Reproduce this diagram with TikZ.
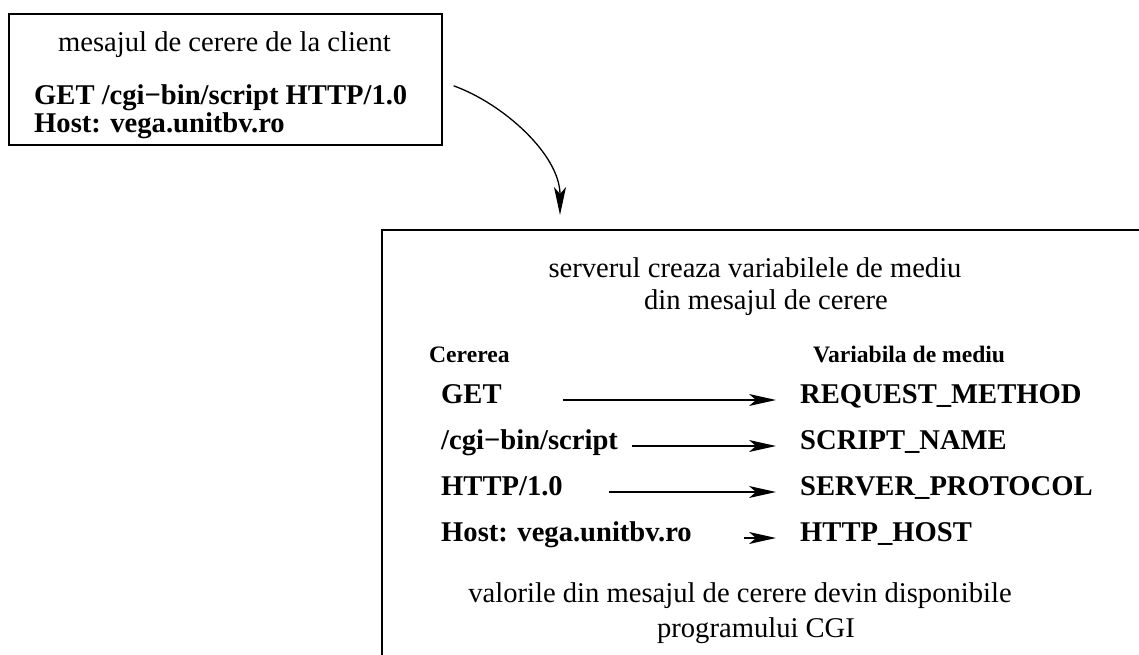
\documentclass[tikz,border=0pt]{standalone}
\usepackage{fontspec}
\setmainfont{Liberation Serif}
\usetikzlibrary{arrows.meta, calc}
\tikzset{
    frame/.style={draw, line width=1.6pt, inner sep=0pt, anchor=north west},
    plain text/.style={font=\fontsize{28.6pt}{34pt}\selectfont, inner sep=0pt},
    bold text/.style={font=\fontsize{28.6pt}{34pt}\selectfont\bfseries, inner sep=0pt},
    head text/.style={font=\fontsize{23.6pt}{28pt}\selectfont\bfseries, inner sep=0pt},
    row text/.style={bold text, text height=0.662em, text depth=0pt, anchor=west},
    map arrow/.style={line width=1.3pt, -{Stealth[length=27pt, width=12pt, inset=7pt]}},
    flow arrow/.style={line width=1.3pt, -{Stealth[length=28pt, width=12pt, inset=7pt]}}
}
\begin{document}
\begin{tikzpicture}[x=1pt, y=-1pt]
    \useasboundingbox (0,0) rectangle (1139,655);
    \clip (0,0) rectangle (1139,655);

    % client request
    \node[frame, minimum width=433pt, minimum height=131pt] (reqBox) at (8,13) {};
    \node[plain text, anchor=base] (reqTitle) at (224.5,52) {mesajul de cerere de la client};
    \node[bold text, anchor=base west] (reqLine) at (34,105) {GET /cgi−bin/script HTTP/1.0};
    \node[bold text, anchor=base west] (hostLine) at (34,133) {Host: vega.unitbv.ro};

    % server side
    \node[frame, minimum width=800pt, minimum height=460pt] (srvBox) at (381,229) {};
    \node[plain text, anchor=base] (srvTitleA) at (755,277) {serverul creaza variabilele de mediu};
    \node[plain text, anchor=base] (srvTitleB) at (766,309) {din mesajul de cerere};
    \node[head text, anchor=base west] (colReq) at (429,362) {Cererea};
    \node[head text, anchor=base west] (colVar) at (813,362) {Variabila de mediu};

    \node[row text] (getL) at (441,400) {GET};
    \node[row text] (getR) at (800,400) {REQUEST\_METHOD};
    \node[row text] (scriptL) at (441,446) {/cgi−bin/script};
    \node[row text] (scriptR) at (800,446) {SCRIPT\_NAME};
    \node[row text] (protoL) at (441,492) {HTTP/1.0};
    \node[row text] (protoR) at (800,492) {SERVER\_PROTOCOL};
    \node[row text] (hostL) at (441,538) {Host: vega.unitbv.ro};
    \node[row text] (hostR) at (800,538) {HTTP\_HOST};

    \node[plain text, anchor=base] (noteA) at (740,602) {valorile din mesajul de cerere devin disponibile};
    \node[plain text, anchor=base] (noteB) at (756,637) {programului CGI};

    \foreach \src/\dst/\gap in {getL/getR/61, scriptL/scriptR/14, protoL/protoR/46, hostL/hostR/52}
        \draw[map arrow] ([xshift=\gap pt]\src.east) -- ([xshift=-24pt]\dst.west);

    \coordinate (flowEnd) at (560,215);
    \draw[flow arrow] ([shift={(11pt,-6.5pt)}]reqBox.east)
        .. controls +(50pt,-18pt) and ($(flowEnd)+(0,-60)$) .. (flowEnd);
\end{tikzpicture}
\end{document}
